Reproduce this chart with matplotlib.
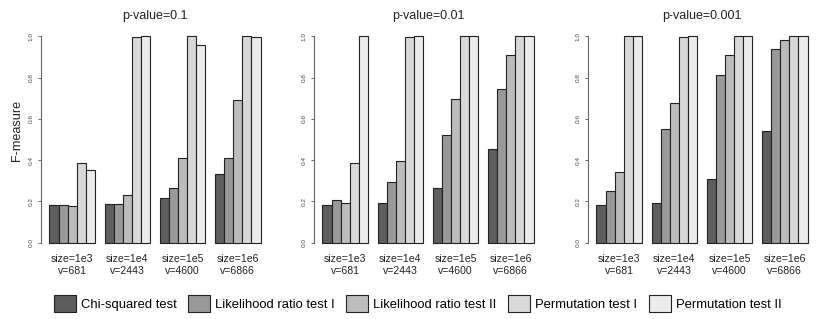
import matplotlib
matplotlib.use("Agg")
import matplotlib.pyplot as plt
import numpy as np
from matplotlib.patches import Patch


P_VALUES = ["0.1", "0.01", "0.001"]
GROUP_LABELS = ["size=1e3\nv=681", "size=1e4\nv=2443", "size=1e5\nv=4600", "size=1e6\nv=6866"]
TESTS = ["Chi-squared test", "Likelihood ratio test I", "Likelihood ratio test II",
         "Permutation test I", "Permutation test II"]
COLORS = ["#5e5e5e", "#999999", "#bcbcbc", "#d8d8d8", "#ebebeb"]

# rows: p-value 0.1, 0.01, 0.001 ; columns: size 1e3..1e6
chi_squared = [[0.181, 0.189, 0.215, 0.331],
               [0.181, 0.191, 0.265, 0.456],
               [0.181, 0.192, 0.309, 0.543]]
lr_test_1 = [[0.181, 0.189, 0.267, 0.412],
             [0.205, 0.292, 0.520, 0.745],
             [0.252, 0.549, 0.813, 0.937]]
lr_test_2 = [[0.176, 0.229, 0.409, 0.691],
             [0.192, 0.396, 0.695, 0.908],
             [0.344, 0.675, 0.908, 0.982]]
perm_test_1 = [[0.386, 0.997, 1.0, 1.0],
               [0.386, 0.997, 1.0, 1.0],
               [1.0, 0.997, 1.0, 1.0]]
perm_test_2 = [[0.354, 1.0, 0.958, 0.997],
               [1.0, 1.0, 1.0, 1.0],
               [1.0, 1.0, 1.0, 1.0]]

SERIES = [chi_squared, lr_test_1, lr_test_2, perm_test_1, perm_test_2]

plt.rcParams["font.family"] = ["Liberation Sans", "DejaVu Sans"]

W, H = 830, 319
fig = plt.figure(figsize=(W / 100, H / 100), dpi=100)

panel_left = [41, 314, 588]
panel_width = 228
ax_bottom, ax_top = 251, 28

n_groups = len(GROUP_LABELS)
n_tests = len(TESTS)

for k, pv in enumerate(P_VALUES):
    ax = fig.add_axes([panel_left[k] / W, 1 - ax_bottom / H,
                       panel_width / W, (ax_bottom - ax_top) / H])
    for j, series in enumerate(SERIES):
        lefts = 1 + np.arange(n_groups) * (n_tests + 1) + j
        ax.bar(lefts, series[k], width=1.0, align="edge", color=COLORS[j],
               edgecolor="#222222", linewidth=0.8)
    total = n_groups * (n_tests + 1)
    ext = 0.04 * (total - 1)
    ax.set_xlim(1 - ext, total + ext)
    ax.set_ylim(-0.04, 1.04)

    centers = 1 + np.arange(n_groups) * (n_tests + 1) + n_tests / 2
    ax.set_xticks(centers)
    ax.set_xticklabels(GROUP_LABELS, fontsize=7.6, linespacing=1.25, color="#222222")
    ax.tick_params(axis="x", length=0, pad=2)

    yt = np.arange(0, 1.01, 0.2)
    ax.set_yticks(yt)
    ax.set_yticklabels([f"{v:.1f}" for v in yt], rotation=90, va="center",
                       fontsize=4.6, color="#444444")
    ax.tick_params(axis="y", length=2.4, width=0.7, color="#666666", pad=3)

    for side in ["top", "right", "bottom"]:
        ax.spines[side].set_visible(False)
    ax.spines["left"].set_bounds(0, 1)
    ax.spines["left"].set_color("#666666")
    ax.spines["left"].set_linewidth(0.8)

    ax.set_title(f"p-value={pv}", fontsize=9, pad=6.8, color="#222222")

fig.text(17 / W, 1 - 130 / H, "F-measure", rotation=90, ha="center", va="center",
         fontsize=9.1, color="#222222")

handles = [Patch(facecolor=c, edgecolor="#222222", linewidth=0.8) for c in COLORS]
fig.legend(handles, TESTS, loc="center", bbox_to_anchor=(0.503, 1 - 303.5 / H),
           ncol=5, frameon=False, fontsize=9.4, handlelength=1.68, handleheight=1.61,
           handletextpad=0.38, columnspacing=0.9, borderaxespad=0, borderpad=0)

fig.savefig("out.png", dpi=100)
